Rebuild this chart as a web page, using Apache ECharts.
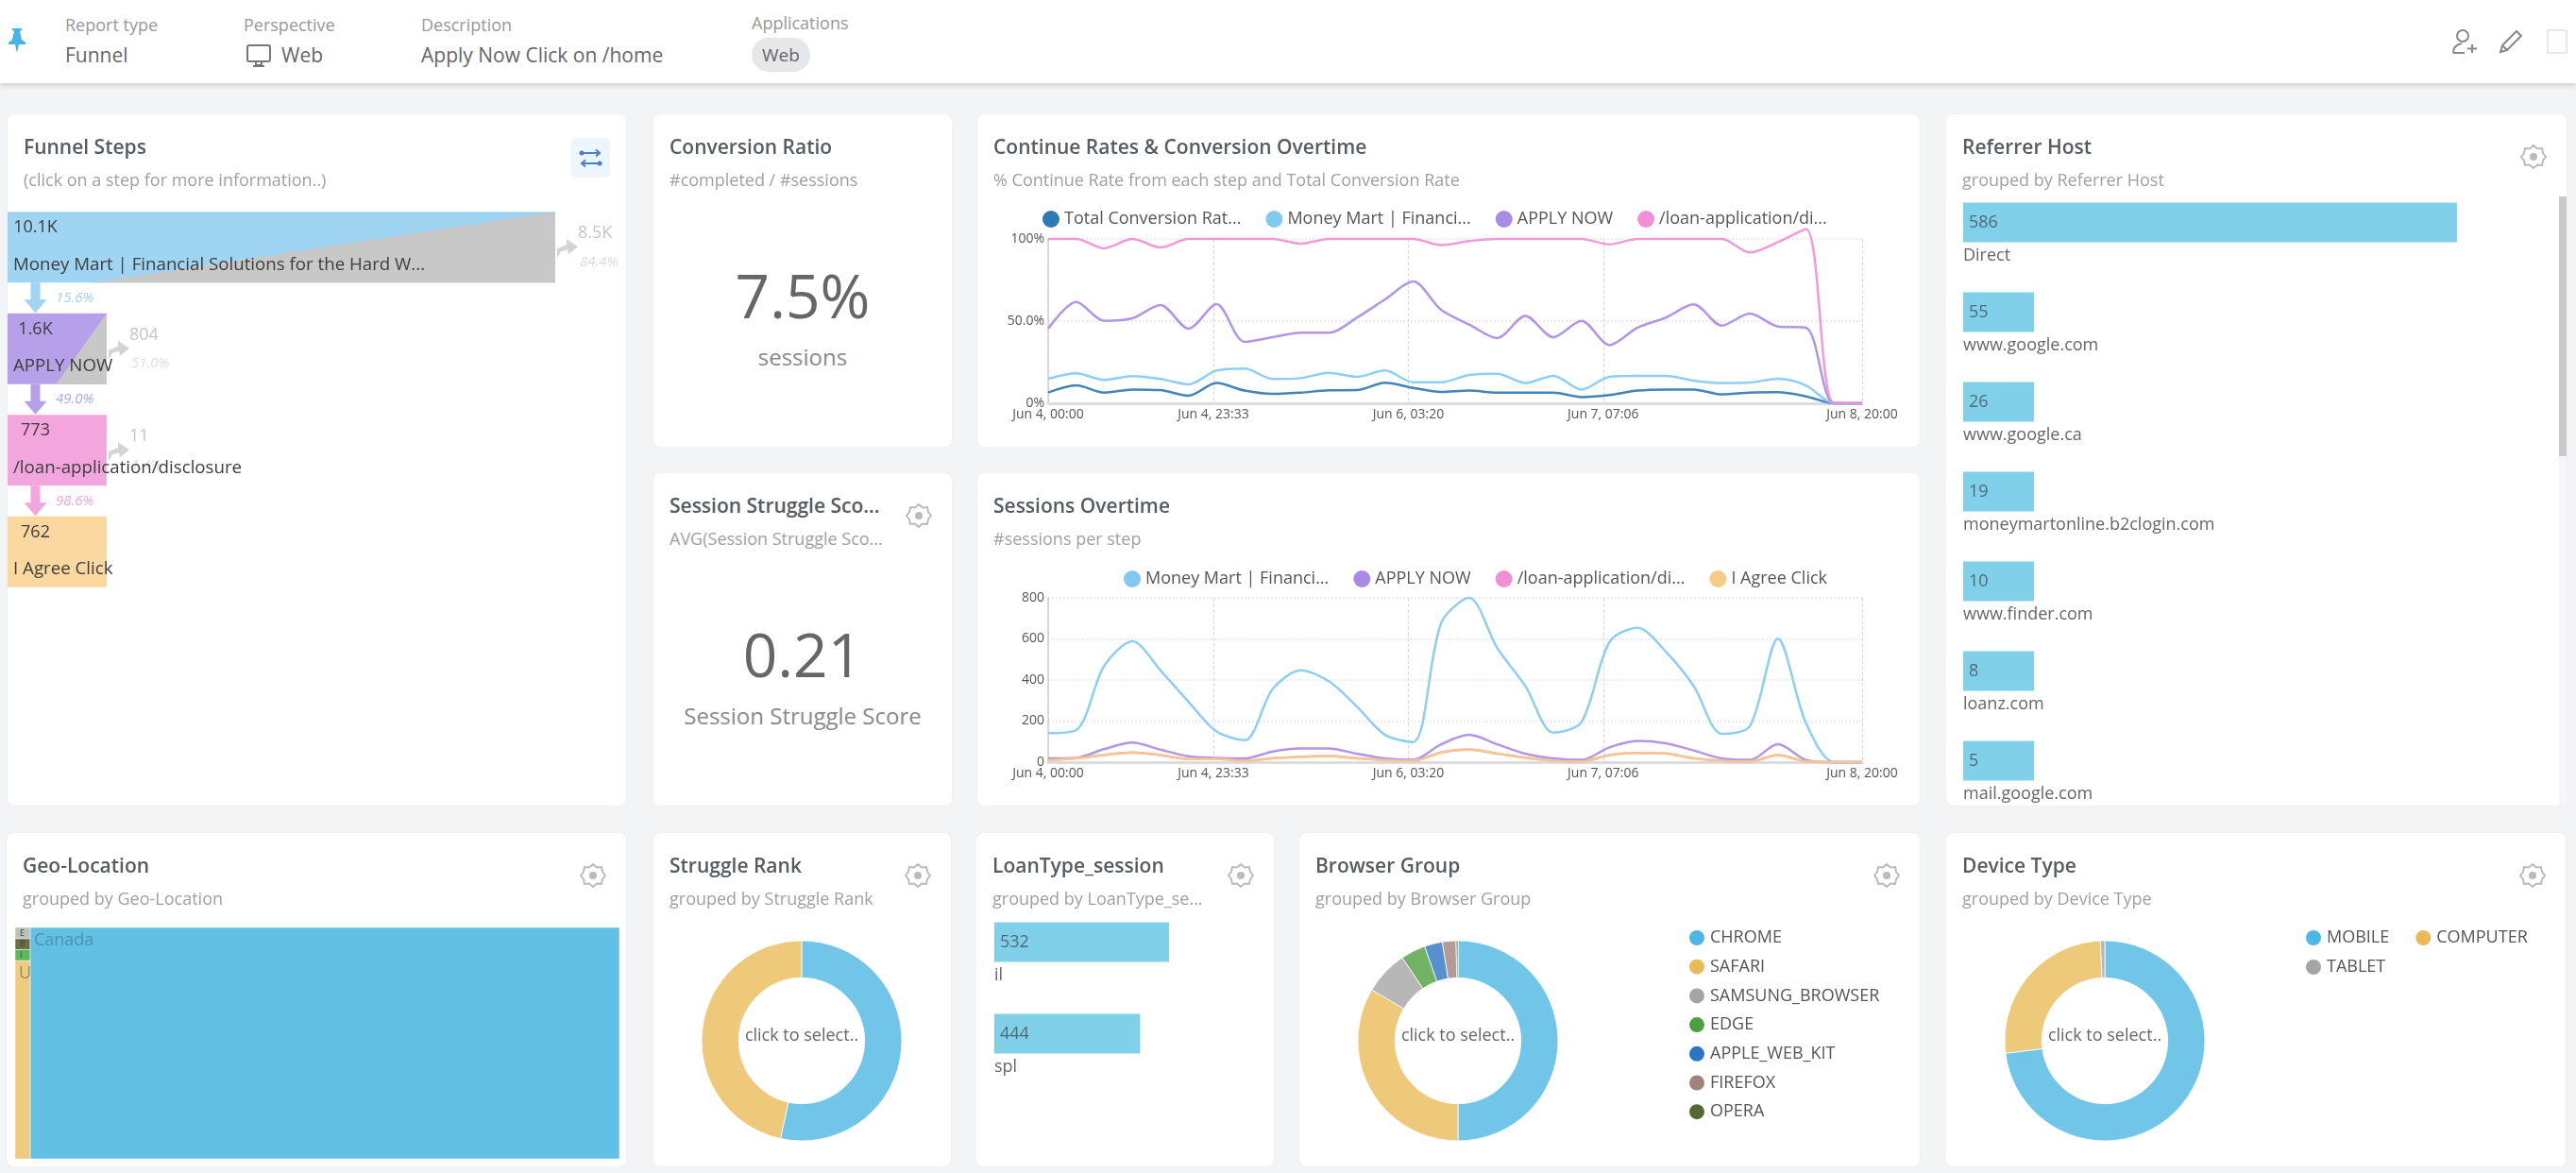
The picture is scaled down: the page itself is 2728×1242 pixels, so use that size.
<!DOCTYPE html>
<html>
<head>
<meta charset="utf-8">
<title>Funnel report</title>
<script src="https://cdn.jsdelivr.net/npm/echarts@6/dist/echarts.min.js"></script>
<style>
  html, body { margin: 0; padding: 0; background: #f3f4f6; font-family: "Open Sans", sans-serif; }
  #page { position: relative; width: 2728px; height: 1242px; overflow: hidden; }
  #top { position: absolute; left: 0; top: 0; width: 2728px; height: 88px; background: #fff; box-shadow: 0 2px 6px rgba(0,0,0,.18); }
  #top .lbl { position: absolute; font-size: 18px; color: #999; white-space: nowrap; }
  #top .val { position: absolute; font-size: 21px; color: #666; white-space: nowrap; }
  #top svg { position: absolute; }
  #chip { position: absolute; left: 796px; top: 40px; width: 62px; height: 36px; border-radius: 18px; background: #e6e7e9; color: #666; font-size: 19px; line-height: 36px; text-align: center; }
  .card { position: absolute; background: #fff; border-radius: 8px; overflow: hidden; box-shadow: 0 0 3px rgba(0,0,0,.04); }
  .card .chart { position: absolute; left: 0; top: 0; width: 100%; height: 100%; }
  .card h3 { position: absolute; left: 17px; top: 20px; margin: 0; font-size: 21px; line-height: 28px; font-weight: 600; color: #555c63; white-space: nowrap; z-index: 2; }
  .card .sub { position: absolute; left: 17px; top: 57px; font-size: 18px; line-height: 24px; color: #a0a0a0; white-space: nowrap; z-index: 2; }
  .card .gear { position: absolute; top: 31px; right: 21px; z-index: 2; }
  .big { position: absolute; left: 0; width: 100%; text-align: center; font-size: 64px; line-height: 80px; color: #666; }
  .bigsub { position: absolute; left: 0; width: 100%; text-align: center; font-size: 24px; line-height: 32px; color: #8a8a8a; }
  #toggle { position: absolute; left: 597px; top: 25px; width: 41px; height: 42px; border-radius: 5px; background: #eef6fd; z-index: 2; }
  #scroll { position: absolute; left: 649px; top: 87px; width: 8px; height: 275px; background: #c9c9c9; z-index: 3; }
  #track { position: absolute; left: 649px; top: 87px; width: 8px; height: 645px; background: #f7f5f9; z-index: 3; }
</style>
</head>
<body>
<div id="page">
  <div id="top">
    <svg style="left:6px;top:29px" width="24" height="28" viewBox="0 0 24 28"><path d="M7 1h10v2l-2 1 2 9 4 3v2H14l-2 9-2-9H3v-2l4-3 2-9-2-1z" fill="#45b5e9"/></svg>
    <div class="lbl" style="left:69px;top:14px">Report type</div>
    <div class="val" style="left:69px;top:44px">Funnel</div>
    <div class="lbl" style="left:258px;top:14px">Perspective</div>
    <svg style="left:260px;top:46px" width="28" height="27" viewBox="0 0 28 27"><rect x="2" y="2" width="24" height="17" rx="2" fill="none" stroke="#777" stroke-width="2"/><path d="M11 19h6v4h-6zM8 24h12" fill="none" stroke="#777" stroke-width="2"/></svg>
    <div class="val" style="left:298px;top:44px">Web</div>
    <div class="lbl" style="left:446px;top:14px">Description</div>
    <div class="val" style="left:446px;top:44px">Apply Now Click on /home</div>
    <div class="lbl" style="left:796px;top:12px">Applications</div>
    <div id="chip">Web</div>
    <svg style="left:2596px;top:30px" width="28" height="28" viewBox="0 0 28 28"><circle cx="12" cy="8" r="6" fill="none" stroke="#888" stroke-width="2"/><path d="M2 26c0-6 4-9 9-10M2 26h12M22 17v9M17 21.500h10" fill="none" stroke="#888" stroke-width="2"/></svg>
    <svg style="left:2645px;top:30px" width="28" height="28" viewBox="0 0 28 28"><path d="M3 25l2-7L20 3l5 5-15 15zM5 18l5 5" fill="none" stroke="#888" stroke-width="2"/></svg>
    <svg style="left:2696px;top:30px" width="24" height="28" viewBox="0 0 24 28"><path d="M2 2h20v24H2z" fill="none" stroke="#e8e8e8" stroke-width="2"/></svg>
  </div>

  <div class="card" style="left:8px;top:121px;width:655px;height:732px">
    <div class="chart" id="ch-funnel"></div>
    <h3>Funnel Steps</h3><div class="sub">(click on a step for more information..)</div>
    <div id="toggle"><svg width="41" height="42" viewBox="0 0 41 42"><path d="M11 16h18M30 27H12M26 12.500l4 3.500-4 3.500M15 23.500l-4 3.500 4 3.500" fill="none" stroke="#4a7fd0" stroke-width="2"/><circle cx="11" cy="16" r="2.500" fill="#4a7fd0"/><circle cx="30" cy="27" r="2.500" fill="#4a7fd0"/></svg></div>
  </div>
  <div class="card" style="left:692px;top:121px;width:316px;height:352px">
    <h3>Conversion Ratio</h3><div class="sub">#completed / #sessions</div>
    <div class="big" style="top:152px">7.5%</div>
    <div class="bigsub" style="top:241px">sessions</div>
  </div>
  <div class="card" style="left:692px;top:501px;width:316px;height:352px">
    <h3>Session Struggle Sco...</h3><div class="sub">AVG(Session Struggle Sco...</div>
    <div class="gear" data-gear></div>
    <div class="big" style="top:152px">0.21</div>
    <div class="bigsub" style="top:241px">Session Struggle Score</div>
  </div>
  <div class="card" style="left:1035px;top:121px;width:998px;height:352px">
    <div class="chart" id="ch-rates"></div>
    <h3>Continue Rates &amp; Conversion Overtime</h3><div class="sub">% Continue Rate from each step and Total Conversion Rate</div>
  </div>
  <div class="card" style="left:1035px;top:501px;width:998px;height:352px">
    <div class="chart" id="ch-sessions"></div>
    <h3>Sessions Overtime</h3><div class="sub">#sessions per step</div>
  </div>
  <div class="card" style="left:2061px;top:121px;width:657px;height:732px">
    <div class="chart" id="ch-referrer"></div>
    <h3>Referrer Host</h3><div class="sub">grouped by Referrer Host</div>
    <div class="gear" data-gear></div>
    <div id="track"></div><div id="scroll"></div>
  </div>
  <div class="card" style="left:7px;top:882px;width:656px;height:353px">
    <div class="chart" id="ch-geo"></div>
    <h3>Geo-Location</h3><div class="sub">grouped by Geo-Location</div>
    <div class="gear" data-gear></div>
  </div>
  <div class="card" style="left:692px;top:882px;width:315px;height:353px">
    <div class="chart" id="ch-struggle"></div>
    <h3>Struggle Rank</h3><div class="sub">grouped by Struggle Rank</div>
    <div class="gear" data-gear></div>
  </div>
  <div class="card" style="left:1034px;top:882px;width:315px;height:353px">
    <div class="chart" id="ch-loan"></div>
    <h3>LoanType_session</h3><div class="sub">grouped by LoanType_se...</div>
    <div class="gear" data-gear></div>
  </div>
  <div class="card" style="left:1376px;top:882px;width:657px;height:353px">
    <div class="chart" id="ch-browser"></div>
    <h3>Browser Group</h3><div class="sub">grouped by Browser Group</div>
    <div class="gear" data-gear></div>
  </div>
  <div class="card" style="left:2061px;top:882px;width:656px;height:353px">
    <div class="chart" id="ch-device"></div>
    <h3>Device Type</h3><div class="sub">grouped by Device Type</div>
    <div class="gear" data-gear></div>
  </div>
</div>

<script>
// funnel
var funnelSteps = ["Money Mart | Financial Solutions for the Hard W...", "APPLY NOW", "/loan-application/disclosure", "I Agree Click"];
var funnelSessions = [10100, 1600, 773, 762];
var funnelLabels = ["10.1K", "1.6K", "773", "762"];
var continuePct = [15.6, 49.0, 98.6];
var dropLabels = ["8.5K", "804", "11"];
var dropPct = [84.4, 51.0, 1.4];

// over time, x is hours after Jun 4 00:00
var hours = [0, 4, 8, 12, 16, 20, 24, 28, 32, 36, 40, 44, 48, 52, 56, 60, 64, 68, 72, 76, 80, 84, 88, 92, 96, 100, 104, 108, 112, 116];
var tickHours = [0, 23.55, 51.33, 79.1, 116];
var tickLabels = ["Jun 4, 00:00", "Jun 4, 23:33", "Jun 6, 03:20", "Jun 7, 07:06", "Jun 8, 20:00"];

var totalRate = [6.5, 10.9, 6.5, 8.4, 8, 4.6, 12.3, 7.7, 5.7, 6.5, 7.9, 8, 12.5, 9.4, 6.9, 7.7, 6.5, 6.5, 6.5, 3.8, 5, 7.7, 8.4, 8.4, 5.4, 6.5, 6.7, 4.2, 0, 0];
var moneyRate = [14.8, 18.2, 14.2, 16.5, 14.8, 11.5, 19.9, 21.1, 14.8, 15.3, 18.6, 16.1, 19.9, 12.8, 12.8, 17.2, 18, 12.3, 16.7, 8.4, 16.1, 16.7, 16.7, 13.8, 12.3, 12.6, 14.9, 10.9, 0, 0];
var applyRate = [45.4, 61.7, 50.2, 51.7, 59.8, 45.4, 60.3, 37.4, 40.2, 42.9, 42.9, 52.1, 63.2, 74.1, 56.9, 47.9, 39.7, 53.1, 40.2, 50.2, 35.4, 46, 52.1, 60.2, 47.3, 54.6, 46.7, 46, 0, 0];
var loanRate = [100, 100, 94.3, 100, 94.8, 100, 100, 100, 100, 97.1, 100, 100, 100, 100, 96.2, 98.7, 100, 100, 100, 100, 96.7, 100, 100, 100, 100, 91.8, 98.1, 106, 0, 0];

var moneySessions = [141, 156, 470, 588, 447, 294, 149, 107, 356, 447, 394, 271, 133, 98, 677, 800, 555, 371, 144, 195, 585, 654, 539, 371, 138, 175, 601, 190, 0, 0];
var applySessions = [18, 21, 64, 95, 61, 29, 21, 18, 52, 67, 67, 41, 18, 11, 87, 133, 87, 41, 18, 11, 72, 103, 92, 57, 18, 11, 87, 11, 0, 0];
var loanSessions = [9, 19, 35, 47, 35, 16, 16, 7, 19, 27, 30, 19, 10, 7, 47, 62, 42, 22, 7, 4, 35, 45, 42, 19, 7, 4, 35, 4, 0, 0];
var agreeSessions = [8, 18, 34, 46, 34, 15, 15, 6, 18, 26, 29, 18, 9, 6, 46, 61, 41, 21, 6, 3, 34, 44, 41, 18, 6, 3, 34, 3, 0, 0];

// grouped panels
var referrerHosts = ["Direct", "www.google.com", "www.google.ca", "moneymartonline.b2clogin.com", "www.finder.com", "loanz.com", "mail.google.com"];
var referrerCounts = [586, 55, 26, 19, 10, 8, 5];
var loanTypes = ["il", "spl"];
var loanCounts = [532, 444];
var geoNames = ["Canada", "United States", "India", "Brazil", "Egypt"];
var geoCounts = [9848, 215, 12, 12, 12];
var struggleNames = ["Low", "High"];
var struggleCounts = [534, 466];
var browserNames = ["CHROME", "SAFARI", "SAMSUNG_BROWSER", "EDGE", "APPLE_WEB_KIT", "FIREFOX", "OPERA"];
var browserCounts = [500, 335, 71, 40, 29, 22, 3];
var deviceNames = ["MOBILE", "COMPUTER", "TABLET"];
var deviceCounts = [730, 263, 7];

var FONT = '"Open Sans", sans-serif';
var INK = "#555";
var stepColors = ["#9fd4f2", "#b7a0ea", "#f3a6de", "#fad8a0"];
var lineColors = { total: "#2e78b4", money: "#82c9f2", apply: "#a98be6", loan: "#f08fd6", agree: "#f6cc85" };
var pieColors = ["#4db6e2", "#e9bb58", "#a5a5a5", "#4d9f3f", "#2d74c4", "#a0837a", "#55682f"];
var legendText = { fontFamily: FONT, fontSize: 18, color: INK };

function init(id, option) {
  var c = echarts.init(document.getElementById(id));
  option.animation = false;
  c.setOption(option);
  return c;
}

// gear icons on the cards
document.querySelectorAll("[data-gear]").forEach(function (n) {
  n.innerHTML = '<svg width="28" height="28" viewBox="0 0 28 28"><path d="M14 2l4 3.500 5-.5 1 5 3 4-3 4-1 5-5-.5-4 3.500-4-3.500-5 .5-1-5-3-4 3-4 1-5 5 .5z" fill="none" stroke="#bbb" stroke-width="2"/><circle cx="14" cy="14" r="4" fill="#bbb"/></svg>';
});

// ---- funnel steps, custom series so the gray drop-off wedge and arrows sit on the bar
function funnelItem(params, api) {
  var i = params.dataIndex;
  var BAR_H = 75, MIN_W = 105;
  var x0 = api.coord([0, i]);
  var w = Math.max(api.coord([funnelSessions[i], i])[0] - x0[0], MIN_W);
  var top = x0[1] - BAR_H / 2, bot = top + BAR_H;
  var left = x0[0];
  var cx = left + 29.5;
  var kids = [{ type: "rect", shape: { x: left, y: top, width: w, height: BAR_H }, style: { fill: stepColors[i] } }];
  if (i < continuePct.length) {
    kids.push({ type: "polygon", shape: { points: [[left + w, top], [left + w, bot], [left + w * continuePct[i] / 100, bot]] }, style: { fill: "#c8c8c8" } });
    kids.push({ type: "polygon", shape: { points: [[cx - 5, bot], [cx + 5, bot], [cx + 5, bot + 18], [cx + 12, bot + 18], [cx, bot + 32], [cx - 12, bot + 18], [cx - 5, bot + 18]] }, style: { fill: stepColors[i] } });
    kids.push({ type: "text", x: left + 51, y: bot + 16, style: { text: continuePct[i].toFixed(1) + "%", font: "italic 15px " + FONT, fill: stepColors[i], verticalAlign: "middle" } });
    var ax = left + w + 2, ay = top + 29;
    kids.push({ type: "polygon", shape: { points: [[ax, ay + 20], [ax, ay + 10], [ax + 10, ay + 6], [ax + 10, ay], [ax + 22, ay + 8], [ax + 12, ay + 16], [ax + 11, ay + 11], [ax + 4, ay + 13]] }, style: { fill: "#d4d4d4" } });
    kids.push({ type: "text", x: ax + 22, y: top + 23, style: { text: dropLabels[i], font: "18px " + FONT, fill: "#c6c6c6", verticalAlign: "middle" } });
    kids.push({ type: "text", x: ax + 24, y: top + 53, style: { text: dropPct[i].toFixed(1) + "%", font: "italic 15px " + FONT, fill: "#dcdcdc", verticalAlign: "middle" } });
  }
  kids.push({ type: "text", x: cx, y: top + 17, style: { text: funnelLabels[i], font: "18px " + FONT, fill: "#3d3d3d", align: "center", verticalAlign: "middle" } });
  kids.push({ type: "text", x: left + 6, y: top + 56, style: { text: funnelSteps[i], font: "18.7px " + FONT, fill: "#3d3d3d", verticalAlign: "middle" } });
  return { type: "group", children: kids };
}

init("ch-funnel", {
  grid: { left: 0, top: 87, width: 580, height: 430 },
  xAxis: { type: "value", min: 0, max: 10100, show: false },
  yAxis: { type: "category", inverse: true, data: funnelSteps, show: false },
  series: [{ type: "custom", renderItem: funnelItem, clip: false, data: funnelSessions.map(function (v, i) { return [v, i]; }) }]
});

// ---- the two time charts share everything except series and y axis
function timeChart(id, legendLeft, legendTop, names, arrays, colors, yAxis) {
  init(id, {
    legend: {
      left: legendLeft, top: legendTop, padding: 0, icon: "circle", itemWidth: 18, itemHeight: 18, itemGap: 26, itemStyle: { opacity: 1 },
      textStyle: legendText
    },
    grid: { left: 75, top: 132, width: 862, height: 174 },
    xAxis: {
      type: "value", min: 0, max: 116,
      axisLine: { lineStyle: { color: "#dcdcdc", width: 3 } },
      axisTick: { show: false, customValues: tickHours },
      axisLabel: {
        customValues: tickHours, margin: 5, color: INK, fontFamily: FONT, fontSize: 14,
        formatter: function (v) { return tickLabels[tickHours.indexOf(v)]; }
      },
      splitLine: { show: true, lineStyle: { color: "#dcdcdc", type: "dashed", width: 1 } }
    },
    yAxis: Object.assign({
      type: "value", min: 0,
      axisLine: { show: true, lineStyle: { color: "#cfcfcf", width: 1.5 } },
      axisTick: { show: false },
      splitLine: { show: true, lineStyle: { color: "#ececec", type: "dotted", width: 2 } }
    }, yAxis),
    series: names.map(function (n, k) {
      return {
        name: n, type: "line", smooth: 0.3, showSymbol: false, clip: false, color: colors[k],
        lineStyle: { width: 2.5, color: colors[k], opacity: 0.9 },
        data: arrays[k].map(function (v, i) { return [hours[i], v]; })
      };
    })
  });
}

timeChart("ch-rates", 69, 102,
  ["Total Conversion Rat...", "Money Mart | Financi...", "APPLY NOW", "/loan-application/di..."],
  [totalRate, moneyRate, applyRate, loanRate],
  [lineColors.total, lineColors.money, lineColors.apply, lineColors.loan],
  { max: 100, interval: 50, axisLabel: { margin: 4, color: INK, fontFamily: FONT, fontSize: 14, formatter: function (v) { return v === 50 ? "50.0%" : v + "%"; } } });

timeChart("ch-sessions", 155, 103,
  ["Money Mart | Financi...", "APPLY NOW", "/loan-application/di...", "I Agree Click"],
  [moneySessions, applySessions, loanSessions, agreeSessions],
  [lineColors.money, lineColors.apply, lineColors.loan, lineColors.agree],
  { max: 800, interval: 200, axisLabel: { margin: 4, color: INK, fontFamily: FONT, fontSize: 14 } });

// ---- value + name bars (Referrer Host, LoanType)
function barPanel(id, grid, max, names, counts, barH) {
  init(id, {
    grid: grid,
    xAxis: { type: "value", min: 0, max: max, show: false },
    yAxis: {
      type: "category", inverse: true, data: names,
      axisLine: { show: false }, axisTick: { show: false },
      axisLabel: {
        inside: true, interval: 0, margin: 0, align: "left", verticalAlign: "top",
        padding: [barH / 2 + 5, 0, 0, 0], color: "#666", fontFamily: FONT, fontSize: 18
      }
    },
    series: [{
      type: "bar", data: counts, barWidth: barH, barMinHeight: 75, silent: true,
      itemStyle: { color: "#81d0ea" },
      label: { show: true, position: "insideLeft", distance: 6, color: "#4f6a76", fontFamily: FONT, fontSize: 18, fontWeight: 500 }
    }]
  });
}
barPanel("ch-referrer", { left: 18, top: 67, width: 523, height: 667.8 }, 586, referrerHosts, referrerCounts, 42);
barPanel("ch-loan", { left: 19, top: 67, width: 185, height: 194 }, 532, loanTypes, loanCounts, 42);

// ---- geo: small countries stacked in a strip left of the largest one
var geoColors = ["#61c0e3", "#efcb7d", "#5db85c", "#6b7043", "#b8c4b8"];
var geoTotal = geoCounts.reduce(function (a, b) { return a + b; }, 0);
var geoRest = geoTotal - geoCounts[0];
function geoItem(params, api) {
  var i = params.dataIndex;
  var rect;
  if (i === 0) {
    var a = api.coord([geoRest, 1]), b = api.coord([geoTotal, 0]);
    rect = { x: a[0], y: a[1], width: b[0] - a[0], height: b[1] - a[1] };
  } else {
    var above = 0;
    for (var k = i + 1; k < geoCounts.length; k++) above += geoCounts[k];
    var p = api.coord([0, 1 - above / geoRest]), q = api.coord([geoRest, 1 - (above + geoCounts[i]) / geoRest]);
    rect = { x: p[0], y: p[1], width: q[0] - p[0], height: q[1] - p[1] };
  }
  var small = i > 1;
  return {
    type: "group", children: [
      { type: "rect", shape: rect, style: { fill: geoColors[i], stroke: "#fff", lineWidth: 0.5 } },
      {
        type: "text", x: rect.x + (small ? 5 : 4), y: rect.y + (small ? 6 : 14),
        style: { text: i === 0 ? geoNames[i] : geoNames[i].slice(0, 1), font: (small ? 9 : 18) + "px " + FONT, fill: i === 0 ? "#4a93ad" : small ? "#444" : "#9a8a5e", verticalAlign: "middle" }
      }
    ]
  };
}
init("ch-geo", {
  grid: { left: 9, top: 100, width: 640, height: 245 },
  xAxis: { type: "value", min: 0, max: geoTotal, show: false },
  yAxis: { type: "value", min: 0, max: 1, show: false },
  series: [{ type: "custom", renderItem: geoItem, data: geoCounts.map(function (v, i) { return [i, v]; }) }]
});

// ---- donuts
function donut(id, cx, names, counts, legend) {
  var opt = {
    color: pieColors,
    graphic: [{ type: "text", x: cx, y: 215, style: { text: "click to select..", font: "18px " + FONT, fill: "#666", align: "center", verticalAlign: "middle" } }],
    series: [{
      type: "pie", center: [cx, 220], radius: [66.7, 106], silent: true, label: { show: false },
      itemStyle: { borderColor: "#fff", borderWidth: 1, opacity: 0.8 },
      data: names.map(function (n, i) { return { name: n, value: counts[i] }; })
    }]
  };
  if (legend) {
    opt.legend = legend.map(function (l) {
      return Object.assign({ padding: 0, icon: "circle", itemWidth: 18, itemHeight: 18, itemStyle: { opacity: 1 }, textStyle: legendText }, l);
    });
  }
  return init(id, opt);
}
donut("ch-struggle", 157, struggleNames, struggleCounts);
donut("ch-browser", 168, browserNames, browserCounts, [{ orient: "vertical", left: 411, top: 101, itemGap: 10.7 }]);
donut("ch-device", 168, deviceNames, deviceCounts, [
  { left: 379, top: 101, itemGap: 26, data: deviceNames.slice(0, 2) },
  { left: 379, top: 132, data: deviceNames.slice(2) }
]);
</script>
</body>
</html>
